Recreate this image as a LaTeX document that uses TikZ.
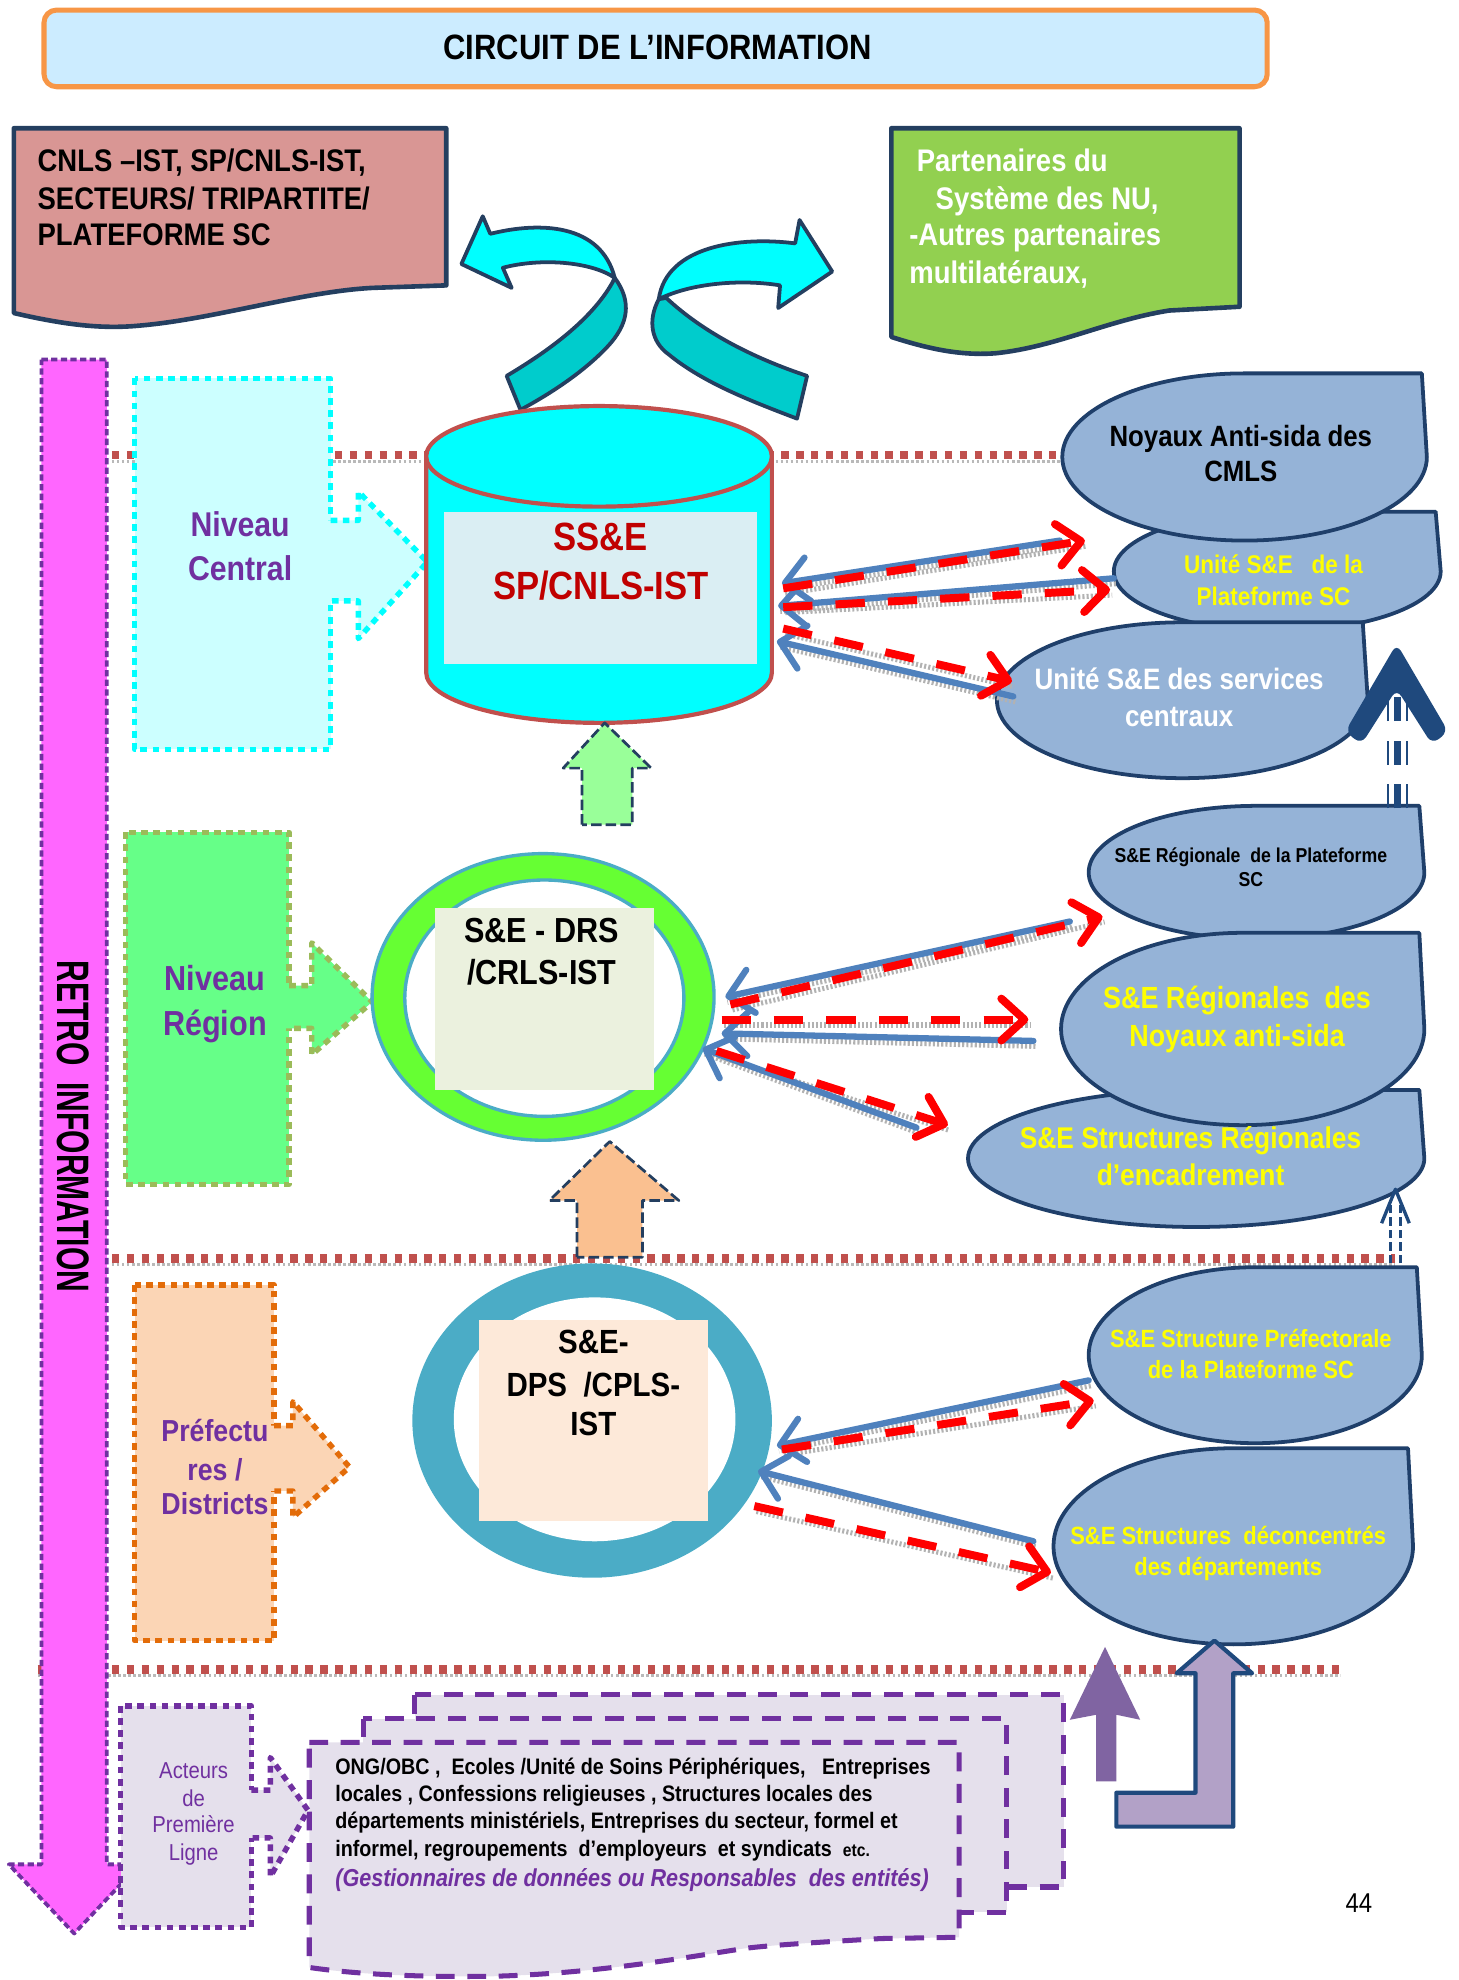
\documentclass[tikz,border=0pt]{standalone}
\usepackage{fontspec}
\setmainfont[FakeStretch=0.88]{Liberation Sans}
\usetikzlibrary{arrows.meta}
\definecolor{titlefill}{HTML}{CCECFF}
\definecolor{titleline}{HTML}{F79646}
\definecolor{pinkfill}{HTML}{D99694}
\definecolor{greendoc}{HTML}{92D050}
\definecolor{docline}{HTML}{243F60}
\definecolor{cyanA}{HTML}{00FFFF}
\definecolor{cyanB}{HTML}{00CCCC}
\definecolor{cylline}{HTML}{C0504D}
\definecolor{cylrect}{HTML}{DAEEF3}
\definecolor{sstext}{HTML}{C00000}
\definecolor{lightcyan}{HTML}{CCFFFF}
\definecolor{regfill}{HTML}{66FF88}
\definecolor{regline}{HTML}{9BBB59}
\definecolor{ringgreen}{HTML}{66FF33}
\definecolor{ringblue}{HTML}{4BACC6}
\definecolor{drsrect}{HTML}{EBF1DE}
\definecolor{upgreen}{HTML}{99FF99}
\definecolor{uporange}{HTML}{FAC090}
\definecolor{prefill}{HTML}{FBD5B5}
\definecolor{preline}{HTML}{E36C09}
\definecolor{dpsrect}{HTML}{FDE9D9}
\definecolor{blobfill}{HTML}{95B3D7}
\definecolor{blobline}{HTML}{1F3F6A}
\definecolor{navyA}{HTML}{1F497D}
\definecolor{arrblue}{HTML}{4F81BD}
\definecolor{magent}{HTML}{FF66FF}
\definecolor{purp}{HTML}{7030A0}
\definecolor{lav}{HTML}{E5E0EC}
\definecolor{purpA}{HTML}{8064A2}
\definecolor{purpB}{HTML}{B2A1C7}
\definecolor{sepred}{HTML}{C0504D}
\definecolor{yel}{HTML}{FFFF00}
\newcommand\fsz[1]{\fontsize{#1}{#1}\selectfont}
\newcommand\tearblob[4]{%
 \pgfmathsetmacro\tbcx{(#1+#3)/2}%
 \pgfmathsetmacro\tbcy{(#2+#4)/2}%
 \pgfmathsetmacro\tbrx{(#3-#1)/2*0.5523}%
 \pgfmathsetmacro\tbry{(#4-#2)/2*0.5523}%
 \filldraw[blob] (#1,\tbcy) .. controls (#1,{\tbcy-\tbry}) and ({\tbcx-\tbrx},#2) .. (\tbcx,#2)
   -- ({#3-4},#2) -- (#3,\tbcy) .. controls (#3,{\tbcy+\tbry}) and ({\tbcx+\tbrx},#4) .. (\tbcx,#4)
   .. controls ({\tbcx-\tbrx},#4) and (#1,{\tbcy+\tbry}) .. (#1,\tbcy) -- cycle;}
\tikzset{
 txt/.style={anchor=base, inner sep=0pt},
 txtl/.style={anchor=base west, inner sep=0pt},
 blob/.style={fill=blobfill, draw=blobline, line width=1.8pt},
 sepline/.style={draw=sepred, line width=4pt, dash pattern=on 3.5pt off 3.6pt},
 sepshadow/.style={draw=gray!55, line width=1.4pt, dash pattern=on 1.2pt off 1.2pt},
 redarr/.style={draw=red, line width=3.8pt, dash pattern=on 14pt off 11pt,
   -{Straight Barb[round,length=11pt,width=20pt]}},
 bluearr/.style={draw=arrblue, line width=3pt, line cap=round,
   -{Straight Barb[round,length=11pt,width=21pt]}},
 arrshadow/.style={draw=gray!60, line width=2.4pt, dash pattern=on 1pt off 1pt,
   transform canvas={shift={(1pt,-2.6pt)}}},
 dotbox/.style={line width=2.6pt, dash pattern=on 3.2pt off 2.6pt},
 cyanrib/.style={draw=docline, line width=1.8pt, line join=round},
 uparrow/.style={draw=docline, line width=1.3pt, dash pattern=on 5pt off 2pt},
 stack/.style={fill=lav, draw=purp, line width=2.4pt, dash pattern=on 9pt off 6pt},
}
\begin{document}
\begin{tikzpicture}[x=0.6pt,y=-0.6pt,line join=round]
\useasboundingbox (0,0) rectangle (1160,1575);
% separator lines
\foreach \yy/\xa/\xb in {362/89/844, 1001/89/1110, 1328/30/1066}{
  \draw[sepshadow] (\xa,\yy+5) -- (\xb,\yy+5);
  \draw[sepline] (\xa,\yy) -- (\xb,\yy);
}
% title
\filldraw[fill=titlefill, draw=titleline, line width=2.4pt, rounded corners=6pt] (35,8) rectangle (1008,69);
\node[txt, font=\fsz{16.8}\bfseries] (title) at (523,47) {CIRCUIT DE L’INFORMATION};
% pink document
\filldraw[fill=pinkfill, draw=docline, line width=2.2pt] (11,102) -- (355,102) -- (355,227) -- (296,229)
  .. controls (240,232) and (170,254) .. (111,259) .. controls (80,262) and (50,258) .. (11,249) -- cycle;
\node[txtl, font=\fsz{14.9}\bfseries] (p1) at (29.6,136.7) {CNLS –IST, SP/CNLS-IST,};
\node[txtl, font=\fsz{14.9}\bfseries] (p2) at (29.6,166.9) {SECTEURS/ TRIPARTITE/};
\node[txtl, font=\fsz{14.9}\bfseries] (p3) at (29.6,195.4) {PLATEFORME SC};
% green document
\filldraw[fill=greendoc, draw=docline, line width=2.2pt] (709,102) -- (986,102) -- (986,244) -- (930,247)
  .. controls (880,255) and (840,276) .. (792,281) .. controls (765,283) and (740,278) .. (709,268) -- cycle;
\node[txtl, font=\fsz{14.9}\bfseries, text=white] (g1) at (729,136.7) {Partenaires du};
\node[txtl, font=\fsz{14.9}\bfseries, text=white] (g2) at (744,166.9) {Système des NU,};
\node[txtl, font=\fsz{14.9}\bfseries, text=white] (g3) at (723,195.4) {-Autres partenaires};
\node[txtl, font=\fsz{14.9}\bfseries, text=white] (g4) at (723,225.4) {multilatéraux,};
% cyan ribbon arrows
\filldraw[cyanrib, fill=cyanB] (489,221) .. controls (503,240) and (500,258) .. (483,276)
  .. controls (465,295) and (440,312) .. (414,326) -- (403,299) .. controls (435,280) and (470,255) .. (487,225) -- cycle;
\filldraw[cyanrib, fill=cyanA] (367,210) -- (384,172) -- (390,186) .. controls (430,176) and (478,178) .. (489,221)
  .. controls (470,208) and (430,205) .. (400,213) -- (407,229) -- cycle;
\filldraw[cyanrib, fill=cyanB] (524,238) .. controls (515,255) and (518,272) .. (532,282)
  .. controls (560,305) and (600,320) .. (634,333) -- (642,299) .. controls (600,285) and (560,265) .. (530,237) -- cycle;
\filldraw[cyanrib, fill=cyanA] (662,216) -- (636,175) -- (632.5,193.6) .. controls (590,188) and (530,195) .. (524,238)
  .. controls (550,225) and (590,222) .. (620.5,227) -- (619,245) -- cycle;
% magenta retro arrow
\filldraw[fill=magent, draw=purp, line width=1.8pt, dash pattern=on 3pt off 1.6pt]
  (33,286) -- (85,286) -- (85,1483) -- (111,1483) -- (59,1538) -- (7,1483) -- (33,1483) -- cycle;
\node[rotate=-90, inner sep=0pt, font=\fsz{21.7}\bfseries] (retro) at (58,896) {\scalebox{0.75}[1]{RETRO\ \ INFORMATION}};
% Niveau central
\filldraw[fill=lightcyan, draw=cyanA, dotbox] (107,301) rectangle (263,596);
\fill[lightcyan] (258,414) -- (285,414) -- (285,391) -- (340,447) -- (285,508) -- (285,478) -- (258,478) -- cycle;
\draw[cyanA, dotbox] (263,414) -- (285,414) -- (285,391) -- (340,447) -- (285,508) -- (285,478) -- (263,478);
\node[txt, font=\fsz{16.4}\bfseries, text=purp] (nc1) at (191,427.1) {Niveau};
\node[txt, font=\fsz{16.4}\bfseries, text=purp] (nc2) at (191,461.6) {Central};
% Niveau region
\filldraw[fill=regfill, draw=regline, dotbox] (100,662) rectangle (230,942);
\fill[regfill] (226,784) -- (248,784) -- (248,750) -- (296,797) -- (248,839) -- (248,818) -- (226,818) -- cycle;
\draw[regline, dotbox] (230,784) -- (248,784) -- (248,750) -- (296,797) -- (248,839) -- (248,818) -- (230,818);
\node[txt, font=\fsz{16.6}\bfseries, text=purp] (nr1) at (171,787.9) {Niveau};
\node[txt, font=\fsz{16.6}\bfseries, text=purp] (nr2) at (171,823.9) {Région};
% Prefectures
\filldraw[fill=prefill, draw=preline, dotbox] (107,1022) rectangle (218,1305);
\fill[prefill] (214,1134) -- (233,1134) -- (233,1115) -- (278,1167) -- (233,1207) -- (233,1186) -- (214,1186) -- cycle;
\draw[preline, dotbox] (218,1134) -- (233,1134) -- (233,1115) -- (278,1167) -- (233,1207) -- (233,1186) -- (218,1186);
\node[txt, font=\fsz{14.5}\bfseries, text=purp] (pr1) at (171,1146.4) {Préfectu};
\node[txt, font=\fsz{14.5}\bfseries, text=purp] (pr2) at (171,1177.4) {res /};
\node[txt, font=\fsz{14.5}\bfseries, text=purp] (pr3) at (171,1205) {Districts};
% cylinder
\filldraw[fill=cyanA, draw=cylline, line width=2pt] (339,363) -- (339,535) .. controls (339,557) and (400.6,575) .. (476.5,575)
  .. controls (552.4,575) and (614,557) .. (614,535) -- (614,363) -- cycle;
\filldraw[fill=cyanA, draw=cylline, line width=2pt] (476.5,363) ellipse [x radius=137.5, y radius=40];
\fill[cylrect] (353,407) rectangle (602,528);
\node[txt, font=\fsz{18.8}\bfseries, text=sstext] (ss1) at (478,437.5) {SS\&E};
\node[txt, font=\fsz{18.8}\bfseries, text=sstext] (ss2) at (478,476.5) {SP/CNLS-IST};
% green ring
\filldraw[fill=ringgreen, draw=ringblue, line width=1.6pt] (432,793) ellipse [x radius=136, y radius=114];
\filldraw[fill=white, draw=ringblue, line width=1.6pt] (433,794) ellipse [x radius=111, y radius=94];
\fill[drsrect] (346,722) rectangle (520,867);
\node[txt, font=\fsz{16.6}\bfseries] (drs1) at (431,749.9) {S\&E - DRS};
\node[txt, font=\fsz{16.6}\bfseries] (drs2) at (431,782.9) {/CRLS-IST};
% blue ring
\fill[ringblue] (471,1130) ellipse [x radius=143, y radius=125];
\fill[white] (473,1129) ellipse [x radius=112, y radius=97];
\fill[dpsrect] (381,1050) rectangle (563,1210);
\node[txt, font=\fsz{16}\bfseries] (dps1) at (472,1076.6) {S\&E-};
\node[txt, font=\fsz{16}\bfseries] (dps2) at (472,1111) {DPS\ \ /CPLS-};
\node[txt, font=\fsz{16}\bfseries] (dps3) at (472,1142) {IST};
% up arrows
\filldraw[fill=upgreen, uparrow] (463,656) -- (463,611) -- (448,611) -- (481,575) -- (518,611) -- (503,611) -- (503,656) -- cycle;
\filldraw[fill=uporange, uparrow] (459,1000) -- (459,955) -- (437,955) -- (485,908) -- (540,955) -- (511,955) -- (511,1000) -- cycle;
% blobs
\tearblob{886}{407}{1146}{502}
\tearblob{845}{297}{1135}{430}
\tearblob{793}{495}{1088}{619}
\tearblob{866}{641}{1133}{747}
\tearblob{770}{867}{1133}{976}
\tearblob{844}{742}{1133}{895}
\tearblob{866}{1008}{1131}{1148}
\tearblob{838}{1152}{1124}{1308}
\node[txt, font=\fsz{14}\bfseries] (ba1) at (987,355.2) {Noyaux Anti-sida des};
\node[txt, font=\fsz{14}\bfseries] (ba2) at (987,383.4) {CMLS};
\node[txt, font=\fsz{12.2}\bfseries, text=yel] (bb1) at (1013,456) {Unité S\&E\ \ \ de la};
\node[txt, font=\fsz{12.2}\bfseries, text=yel] (bb2) at (1013,481.3) {Plateforme SC};
\node[txt, font=\fsz{14.1}\bfseries, text=white] (bc1) at (938,548.5) {Unité S\&E des services};
\node[txt, font=\fsz{14.1}\bfseries, text=white] (bc2) at (938,577.5) {centraux};
\node[txt, font=\fsz{9.6}\bfseries] (bd1) at (995,686) {S\&E Régionale\ \ de la Plateforme};
\node[txt, font=\fsz{9.6}\bfseries] (bd2) at (995,705) {SC};
\node[txt, font=\fsz{14.3}\bfseries, text=yel] (bf1) at (947,913.5) {S\&E Structures Régionales};
\node[txt, font=\fsz{14.3}\bfseries, text=yel] (bf2) at (947,943) {d’encadrement};
\node[txt, font=\fsz{14.6}\bfseries, text=yel] (be1) at (984,802.5) {S\&E Régionales\ \ des};
\node[txt, font=\fsz{14.6}\bfseries, text=yel] (be2) at (984,832.5) {Noyaux anti-sida};
\node[txt, font=\fsz{11.9}\bfseries, text=yel] (bg1) at (995,1071.9) {S\&E Structure Préfectorale};
\node[txt, font=\fsz{11.9}\bfseries, text=yel] (bg2) at (995,1096.3) {de la Plateforme SC};
\node[txt, font=\fsz{11.9}\bfseries, text=yel] (bh1) at (977,1228.9) {S\&E Structures\ \ déconcentrés};
\node[txt, font=\fsz{11.9}\bfseries, text=yel] (bh2) at (977,1252.9) {des départements};
% connector end points
\coordinate (cR1s) at (623,468);   \coordinate (cR1e) at (863,430);
\coordinate (cB1s) at (843,430);   \coordinate (cB1e) at (622,464);
\coordinate (cR2s) at (623,483);   \coordinate (cR2e) at (883,469);
\coordinate (cB2s) at (886,460);   \coordinate (cB2e) at (619,482);
\coordinate (cR3s) at (623,500);   \coordinate (cR3e) at (805,542);
\coordinate (cB3s) at (806,554);   \coordinate (cB3e) at (618,510);
\coordinate (rR1s) at (581,799);   \coordinate (rR1e) at (877,729);
\coordinate (rB1s) at (851,733);   \coordinate (rB1e) at (577,793);
\coordinate (rR2s) at (574,811);   \coordinate (rR2e) at (818,811);
\coordinate (rB2s) at (822,828);   \coordinate (rB2e) at (574,822);
\coordinate (rR3s) at (570,836);   \coordinate (rR3e) at (754,895);
\coordinate (rB3s) at (729,897);   \coordinate (rB3e) at (559,834);
\coordinate (pR1s) at (622,1153);  \coordinate (pR1e) at (870,1114);
\coordinate (pB1s) at (866,1098);  \coordinate (pB1e) at (618,1150);
\coordinate (pR2s) at (600,1198);  \coordinate (pR2e) at (836,1251);
\coordinate (pB2s) at (822,1226);  \coordinate (pB2e) at (603,1170);
\foreach \c in {cB1,cB2,cB3,rB1,rB2,rB3,pB1,pB2,cR1,cR2,cR3,rR1,rR2,rR3,pR1,pR2}{\draw[arrshadow] (\c s) -- (\c e);}
\foreach \c in {cB1,cB2,cB3,rB1,rB2,rB3,pB1,pB2}{\draw[bluearr] (\c s) -- (\c e);}
\foreach \c in {cR1,cR2,cR3,rR1,rR2,rR3,pR1,pR2}{\draw[redarr] (\c s) -- (\c e);}
% navy chevron arrow (region -> central)
\fill[navyA, rounded corners=4pt] (1111,512) -- (1152,582) -- (1139,592) -- (1111,548) -- (1083,592) -- (1070,582) -- cycle;
\foreach \xx/\ww in {1104/1.2pt, 1111.5/3.2pt, 1119/1.2pt}{
  \draw[navyA, line width=\ww, dash pattern=on 11.5pt off 9.3pt] (\xx,643) -- (\xx,552);}
% small dashed arrow (prefecture -> region)
\foreach \xx in {1106,1114}{\draw[navyA, line width=1.2pt, dash pattern=on 4pt off 2pt] (\xx,1005) -- (\xx,955);}
\draw[navyA, line width=1.6pt] (1099,973) -- (1110,946) -- (1121,973);
% document stack
\filldraw[stack] (330,1348) rectangle (846,1501);
\filldraw[stack] (289,1367) rectangle (801,1521);
\filldraw[stack] (246,1386) -- (763,1386) -- (763,1541) -- (701,1542) .. controls (650,1545) and (600,1548) .. (585,1551)
  .. controls (540,1558) and (470,1570) .. (393,1572) .. controls (330,1573) and (280,1570) .. (246,1565) -- cycle;
\node[txtl, font=\fsz{10.7}\bfseries] (d1) at (266.4,1411.3) {ONG/OBC ,\ \ Ecoles /Unité de Soins Périphériques,\ \ \ Entreprises};
\node[txtl, font=\fsz{10.7}\bfseries] (d2) at (266.4,1433) {locales , Confessions religieuses , Structures locales des};
\node[txtl, font=\fsz{10.7}\bfseries] (d3) at (266.4,1454.7) {départements ministériels, Entreprises du secteur, formel et};
\node[txtl, font=\fsz{10.7}\bfseries] (d4) at (266.4,1476.7) {informel, regroupements\ \ d’employeurs\ \ et syndicats\ \ {\fsz{8.5}etc.}};
\node[txtl, font=\fsz{11.7}\bfseries\itshape, text=purp] (d5) at (266.4,1500.5) {(Gestionnaires de données ou Responsables\ \ des entités)};
% acteurs box
\filldraw[fill=lav, draw=purp, dotbox] (96,1357) rectangle (200,1533);
\fill[lav] (196,1424) -- (215,1424) -- (215,1398) -- (245,1440) -- (215,1493) -- (215,1462) -- (196,1462) -- cycle;
\draw[purp, dotbox] (200,1424) -- (215,1424) -- (215,1398) -- (245,1440) -- (215,1493) -- (215,1462) -- (200,1462);
\node[txt, font=\fsz{11}, text=purp] (ac1) at (154,1414.5) {Acteurs};
\node[txt, font=\fsz{11}, text=purp] (ac2) at (154,1437) {de};
\node[txt, font=\fsz{11}, text=purp] (ac3) at (154,1457.6) {Première};
\node[txt, font=\fsz{11}, text=purp] (ac4) at (154,1480) {Ligne};
% purple arrows
\fill[purpA] (872,1417) -- (872,1364) -- (851,1368) -- (879,1310) -- (907,1368) -- (888,1364) -- (888,1417) -- cycle;
\filldraw[fill=purpB, draw=navyA, line width=2pt] (888,1426) -- (951,1426) -- (951,1331) -- (936,1331) -- (966,1305)
  -- (996,1331) -- (981,1331) -- (981,1453) -- (888,1453) -- cycle;
% page number
\node[txt, font=\fsz{13}] (pagenum) at (1081,1521) {44};
\end{tikzpicture}
\end{document}
